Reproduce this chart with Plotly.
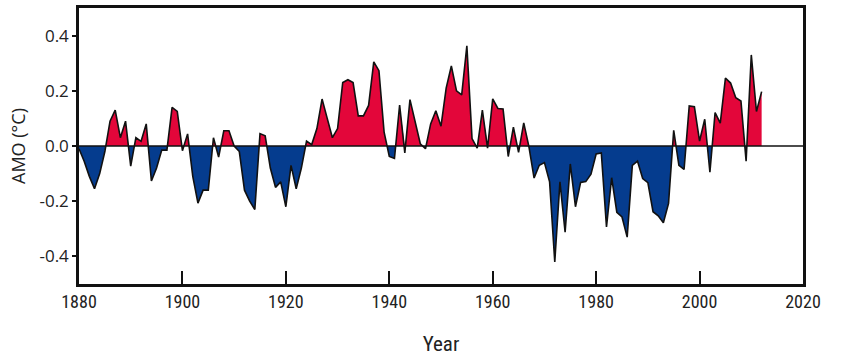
import plotly.graph_objects as go

# Data (AMO index, °C)
years = list(range(1880, 2013))
amo = [
    -0.01, -0.055, -0.11, -0.155, -0.10, -0.02, 0.09, 0.13, 0.03, 0.09,      # 1880-1889
    -0.073, 0.03, 0.017, 0.08, -0.127, -0.08, -0.015, -0.015, 0.14, 0.125,   # 1890-1899
    -0.017, 0.044, -0.11, -0.207, -0.16, -0.16, 0.03, -0.04, 0.055, 0.055,   # 1900-1909
    0.0, -0.02, -0.16, -0.20, -0.23, 0.045, 0.037, -0.08, -0.15, -0.13,      # 1910-1919
    -0.22, -0.07, -0.155, -0.08, 0.018, 0.005, 0.063, 0.17, 0.10, 0.03,      # 1920-1929
    0.063, 0.23, 0.24, 0.23, 0.109, 0.109, 0.147, 0.305, 0.273, 0.05,        # 1930-1939
    -0.038, -0.045, 0.148, -0.025, 0.168, 0.087, 0.008, -0.01, 0.08, 0.128,  # 1940-1949
    0.072, 0.21, 0.29, 0.20, 0.185, 0.363, 0.027, -0.008, 0.13, -0.008,      # 1950-1959
    0.171, 0.136, 0.134, -0.038, 0.068, -0.023, 0.084, -0.002, -0.116, -0.07,  # 1960-1969
    -0.06, -0.13, -0.42, -0.13, -0.312, -0.065, -0.22, -0.132, -0.129, -0.102, # 1970-1979
    -0.029, -0.025, -0.293, -0.115, -0.24, -0.257, -0.33, -0.07, -0.055, -0.118, # 1980-1989
    -0.133, -0.238, -0.253, -0.278, -0.208, 0.057, -0.07, -0.085, 0.145, 0.142,  # 1990-1999
    0.018, 0.097, -0.095, 0.121, 0.083, 0.246, 0.228, 0.175, 0.163, -0.055,    # 2000-2009
    0.33, 0.125, 0.197,                                                        # 2010-2012
]

x_ticks = [1880, 1900, 1920, 1940, 1960, 1980, 2000, 2020]
y_ticks = [-0.4, -0.2, 0.0, 0.2, 0.4]

RED = "#E3063A"
BLUE = "#053C8E"

# Insert zero crossings so the fills split cleanly at 0
xs, ys = [years[0]], [amo[0]]
for i in range(1, len(years)):
    x0, y0, x1, y1 = years[i - 1], amo[i - 1], years[i], amo[i]
    if (y0 > 0 and y1 < 0) or (y0 < 0 and y1 > 0):
        xc = x0 + (x1 - x0) * (0 - y0) / (y1 - y0)
        xs.append(xc)
        ys.append(0.0)
    xs.append(x1)
    ys.append(y1)

pos = [max(v, 0.0) for v in ys]
neg = [min(v, 0.0) for v in ys]

fig = go.Figure()
fig.add_trace(go.Scatter(x=xs, y=pos, mode="lines", line=dict(width=0, color=RED),
                         fill="tozeroy", fillcolor=RED, hoverinfo="skip", showlegend=False))
fig.add_trace(go.Scatter(x=xs, y=neg, mode="lines", line=dict(width=0, color=BLUE),
                         fill="tozeroy", fillcolor=BLUE, hoverinfo="skip", showlegend=False))
fig.add_trace(go.Scatter(x=years, y=amo, mode="lines", line=dict(width=1.6, color="#111111"),
                         showlegend=False, name="AMO"))

fig.add_shape(type="line", xref="paper", yref="y", x0=0, x1=1, y0=0, y1=0,
              line=dict(color="#111111", width=1.5), layer="above")

fig.update_layout(
    width=850, height=362,
    margin=dict(l=79, r=47, t=5, b=78),
    paper_bgcolor="white", plot_bgcolor="white",
    font=dict(family="Open Sans, DejaVu Sans, sans-serif", color="#222222"),
    showlegend=False,
)
fig.update_xaxes(
    range=[1880, 2020], tickvals=x_ticks, ticktext=[str(t) for t in x_ticks],
    ticks="inside", ticklen=13, tickwidth=2, tickcolor="#111111",
    showline=True, linecolor="#111111", linewidth=2.5, mirror=True,
    showgrid=False, zeroline=False,
    tickfont=dict(family="Liberation Sans Narrow, Roboto Condensed, Roboto, sans-serif", size=18, color="#222222"),
    title=dict(text="Year", font=dict(family="Liberation Sans Narrow, Roboto Condensed, Roboto, sans-serif", size=21, color="#222222"), standoff=25),
)
fig.update_yaxes(
    range=[-0.5, 0.5], tickvals=y_ticks, ticktext=["-0.4", "-0.2", "0.0", "0.2", "0.4"],
    ticks="outside", ticklen=4, tickwidth=2, tickcolor="#111111",
    showline=True, linecolor="#111111", linewidth=2.5, mirror=True,
    showgrid=False, zeroline=False,
    tickfont=dict(family="Open Sans, DejaVu Sans, sans-serif", size=17, color="#222222"),
    title=dict(text="AMO (°C)", font=dict(family="Open Sans, DejaVu Sans, sans-serif", size=18, color="#222222"), standoff=10),
)

fig.write_html("out.html", config={"displayModeBar": False},
               post_script="document.body.style.margin='0';")
